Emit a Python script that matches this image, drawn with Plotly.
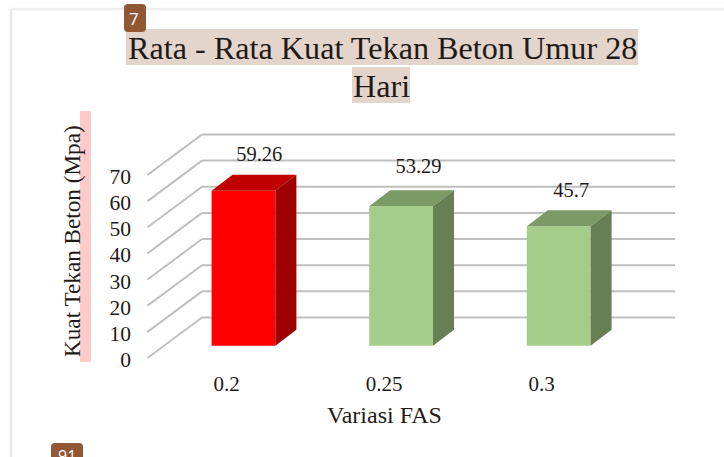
import plotly.graph_objects as go

categories = ["0.2", "0.25", "0.3"]
values = [59.26, 53.29, 45.7]
front_colors = ["#ff0000", "#a5cd8a", "#a5cd8a"]
top_colors = ["#c00000", "#7c9a66", "#7c9a66"]
side_colors = ["#9c0000", "#677f55", "#677f55"]
y_ticks = [0, 10, 20, 30, 40, 50, 60, 70]
label_nudge_y = [0.0, 1.5, 0.0]
label_nudge_x = [0.0, 0.01, -0.02]

W, H = 724, 457
L, R, T, B = 147, 675, 120, 364
PX_PER_CAT, PX_PER_UNIT = 157.6, 2.615
X0_PX, Y0_PX = 243.5, 345.7

FONT = "Liberation Serif"
INK = "#1f1a17"
GRID = "#bfbfbf"


def cat_at(px):
    return (px - X0_PX) / PX_PER_CAT


def val_at(py):
    return (Y0_PX - py) / PX_PER_UNIT


def px(x):
    return (x - L) / (R - L)


def py(y):
    return (B - y) / (B - T)


# 3-D projection expressed in axis units
BAR_W = 63.8 / PX_PER_CAT
DEPTH_X, DEPTH_Y = 21 / PX_PER_CAT, 16 / PX_PER_UNIT
FLOOR_FRONT = val_at(358)
WALL_X = cat_at(202)
WALL_DY = 40.5 / PX_PER_UNIT
RIGHT_X = cat_at(675)
FRONT_X = cat_at(147.5)
TICK_SHIFT = 1.5 / PX_PER_UNIT

xs = list(range(len(categories)))
fig = go.Figure()

fig.add_trace(go.Bar(x=xs, y=values, width=BAR_W, marker_color=front_colors,
                     marker_line_width=0, hoverinfo="skip", showlegend=False))

for i, v in zip(xs, values):
    xl, xr = i - BAR_W / 2, i + BAR_W / 2
    fig.add_trace(go.Scatter(
        x=[xl, xr, xr + DEPTH_X, xl + DEPTH_X, xl],
        y=[v, v, v + DEPTH_Y, v + DEPTH_Y, v],
        fill="toself", fillcolor=top_colors[i], mode="none",
        hoverinfo="skip", showlegend=False))
    fig.add_trace(go.Scatter(
        x=[xr, xr + DEPTH_X, xr + DEPTH_X, xr, xr],
        y=[0, DEPTH_Y, v + DEPTH_Y, v, 0],
        fill="toself", fillcolor=side_colors[i], mode="none",
        hoverinfo="skip", showlegend=False))

fig.add_trace(go.Scatter(
    x=[i + 0.1 + n for i, n in zip(xs, label_nudge_x)],
    y=[v + 13.3 + n for v, n in zip(values, label_nudge_y)],
    text=[f"{v:g}" for v in values], mode="text", textposition="middle center",
    textfont=dict(family=FONT, size=20.5, color=INK),
    hoverinfo="skip", showlegend=False))

shapes = []
for t in y_ticks:
    front = FLOOR_FRONT + t
    back = front + WALL_DY
    line = dict(color=GRID, width=2)
    shapes.append(dict(type="line", xref="x", yref="y", layer="below",
                       x0=FRONT_X, y0=front, x1=WALL_X, y1=back, line=line))
    shapes.append(dict(type="line", xref="x", yref="y", layer="below",
                       x0=WALL_X, y0=back, x1=RIGHT_X, y1=back, line=line))


def rect(x0, y0, x1, y1, color):
    return dict(type="rect", xref="paper", yref="paper", layer="below",
                x0=px(x0), x1=px(x1), y0=py(y0), y1=py(y1),
                fillcolor=color, line_width=0)


def rounded(x0, y0, x1, y1, r, color):
    a, b, c, d = px(x0), px(x1), py(y0), py(y1)
    rx, ry = r / (R - L), r / (B - T)
    path = (f"M {a+rx} {c} L {b-rx} {c} Q {b} {c} {b} {c-ry} L {b} {d+ry} "
            f"Q {b} {d} {b-rx} {d} L {a+rx} {d} Q {a} {d} {a} {d+ry} "
            f"L {a} {c-ry} Q {a} {c} {a+rx} {c} Z")
    return dict(type="path", path=path, xref="paper", yref="paper",
                layer="below", fillcolor=color, line_width=0)


shapes += [
    dict(type="line", xref="paper", yref="paper", layer="below", x0=px(11), x1=px(11),
         y0=py(9), y1=py(457), line=dict(color="#e8e8e8", width=2.5)),
    dict(type="line", xref="paper", yref="paper", layer="below", x0=px(11), x1=px(724),
         y0=py(9), y1=py(9), line=dict(color="#eeeeee", width=2.5)),
    rect(126, 29, 638, 65, "#e3d5cb"),
    rect(352, 67, 410, 103, "#e3d5cb"),
    rect(80, 111, 91, 362, "#ffcaca"),
    rounded(124, 4, 146, 32, 4, "#925735"),
    rounded(51, 443, 83, 470, 4, "#925735"),
]


def note(text, x, y, size, color=INK, family=FONT, angle=0):
    return dict(text=text, xref="paper", yref="paper", x=px(x), y=py(y),
                xanchor="center", yanchor="middle", showarrow=False, textangle=angle,
                font=dict(family=family, size=size, color=color))


annotations = [
    note("Rata - Rata Kuat Tekan Beton Umur 28", 382, 48, 32.2),
    note("Hari", 381, 86, 32.2),
    note("Kuat Tekan Beton (Mpa)", 72, 241, 23.2, angle=-90),
    note("Variasi FAS", 384.5, 415, 24),
    note("7", 134, 18, 17, color="#ffffff", family="Open Sans"),
    note("91", 67, 456, 16, color="#ffffff", family="Open Sans"),
]

fig.update_layout(
    width=W, height=H, margin=dict(l=L, r=W - R, t=T, b=H - B, pad=0),
    paper_bgcolor="#ffffff", plot_bgcolor="rgba(0,0,0,0)",
    shapes=shapes, annotations=annotations, showlegend=False,
    xaxis=dict(range=[cat_at(L), cat_at(R)], showgrid=False, zeroline=False,
               showline=False, ticks="", tickmode="array",
               tickvals=[i - 17 / PX_PER_CAT for i in xs], ticktext=categories,
               ticklabelstandoff=5,
               tickfont=dict(family=FONT, size=21, color=INK)),
    yaxis=dict(range=[val_at(B), val_at(T)], showgrid=False, zeroline=False,
               showline=False, ticks="", tickmode="array",
               tickvals=[FLOOR_FRONT + t - TICK_SHIFT for t in y_ticks],
               ticktext=[str(t) for t in y_ticks],
               ticklabelstandoff=15,
               tickfont=dict(family=FONT, size=21.5, color=INK)),
)

fig.write_html("out.html", config={"displayModeBar": False},
               post_script="document.body.style.margin='0';document.body.style.overflow='hidden';")
